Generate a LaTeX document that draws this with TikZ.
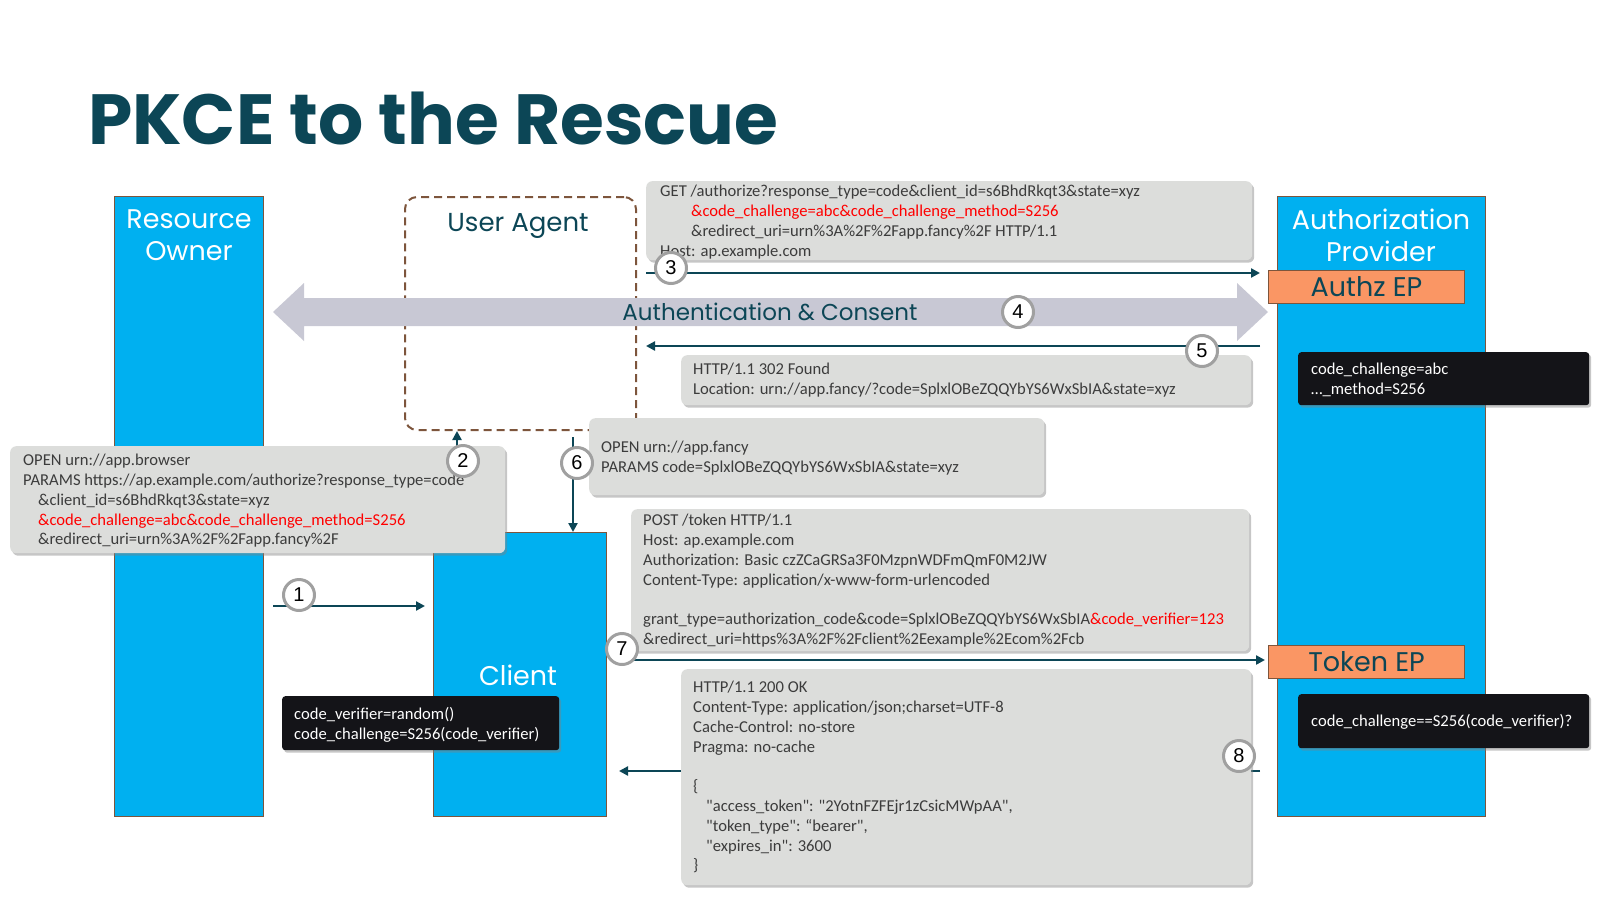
\documentclass[tikz,border=0pt]{standalone}
\usepackage{fontspec}
\setmainfont{Carlito}
\newfontfamily\headfont{Poppins}
\newfontfamily\numfont{Liberation Sans}
\usetikzlibrary{arrows.meta,shadows,positioning}

\definecolor{pkteal}{RGB}{12,70,86}
\definecolor{pkcyan}{RGB}{0,176,240}
\definecolor{pkorange}{RGB}{250,150,100}
\definecolor{pkbrown}{RGB}{125,85,60}
\definecolor{pkgray}{RGB}{220,221,219}
\definecolor{pktext}{RGB}{60,60,60}
\definecolor{pkred}{RGB}{255,0,0}
\definecolor{pkblack}{RGB}{20,20,24}
\definecolor{pkband}{RGB}{200,200,212}
\definecolor{pkring}{RGB}{160,160,160}
\newcommand{\qd}{\textquotedbl}

\begin{document}
\begin{tikzpicture}[x=1pt,y=-1pt,
  actor/.style={draw=pkbrown, line width=1pt, fill=pkcyan, anchor=north west, inner sep=0pt},
  actorlabel/.style={font=\headfont\fontsize{27}{32}\selectfont, text=white, align=center},
  ep/.style={draw=pkbrown, line width=1pt, fill=pkorange, anchor=north west, inner sep=0pt,
    minimum width=196pt, minimum height=33pt, font=\headfont\fontsize{27}{30}\selectfont, text=pkteal},
  msg/.style={fill=pkgray, rounded corners=6pt, anchor=north west, inner sep=0pt,
    drop shadow={shadow xshift=2pt, shadow yshift=-2.5pt, opacity=0.45}},
  note/.style={fill=pkblack, rounded corners=3pt, anchor=north west, inner sep=0pt,
    drop shadow={shadow xshift=2pt, shadow yshift=-2.5pt, opacity=0.45}},
  msgtext/.style={anchor=north west, inner sep=0pt, align=left, text=pktext,
    font=\fontsize{16.6}{19.8}\selectfont},
  notetext/.style={msgtext, text=white},
  flow/.style={draw=pkteal, line width=2.5pt, -{Triangle[length=9pt,width=9pt]}},
  num/.style={circle, draw=pkring, line width=3pt, fill=white, minimum size=31pt,
    inner sep=0pt, font=\numfont\fontsize{20}{20}\selectfont},
]
\useasboundingbox (0,0) rectangle (1600,900);

% title
\node[anchor=base west, inner sep=0pt, text=pkteal,
  font=\headfont\bfseries\fontsize{71}{80}\selectfont] (title) at (88,144) {PKCE to the Rescue};

% actors
\node[actor, minimum width=149pt, minimum height=620pt] (owner) at (114,196) {};
\node[actor, minimum width=173pt, minimum height=284pt] (client) at (433,532) {};
\node[actor, minimum width=208pt, minimum height=620pt] (provider) at (1277,196) {};
\node[actorlabel] (ownerlabel) at (189,235) {Resource\\Owner};
\node[actorlabel] (clientlabel) at (518,675) {Client};
\node[actorlabel] (providerlabel) at (1381,235) {Authorization\\Provider};

\node[draw=pkbrown, line width=2pt, dash pattern=on 8pt off 5pt, rounded corners=12pt,
  anchor=north west, inner sep=0pt, minimum width=231pt, minimum height=233pt] (agent) at (404,196) {};
\node[font=\headfont\fontsize{26}{30}\selectfont, text=pkteal] (agentlabel) at (518,226) {User Agent};

\node[ep] (authz) at (1268,270) {Authz EP};
\node[ep] (token) at (1268,645) {Token EP};

% authentication band
\fill[pkband] (273,312) -- (304,283) -- (304,298) -- (1237,298) -- (1237,283) -- (1268,312)
  -- (1237,341) -- (1237,326) -- (304,326) -- (304,341) -- cycle;
\node[font=\headfont\fontsize{23}{27}\selectfont, text=pkteal] (consent) at (770,312) {Authentication \& Consent};

% flows
\coordinate (f1a) at (273,606);
\coordinate (f1b) at (425,606);
\coordinate (f3a) at (646,273);
\coordinate (f3b) at (1260,273);
\coordinate (f5a) at (1260,346);
\coordinate (f5b) at (646,346);
\coordinate (f6a) at (573,437);
\coordinate (f7a) at (624,660);
\coordinate (f7b) at (1265,660);
\coordinate (f8a) at (1260,771);
\coordinate (f8b) at (619,771);
\draw[flow] (f1a) -- (f1b);
\draw[flow] (457,446) -- (457,0 |- agent.south);
\draw[flow] (f3a) -- (f3b);
\draw[flow] (f5a) -- (f5b);
\draw[flow] (f6a) -- (573,0 |- client.north);
\draw[flow] (f7a) -- (f7b);
\draw[flow] (f8a) -- (f8b);

% messages
\node[msg, minimum width=606pt, minimum height=79pt] (get) at (646,181) {};
\node[msgtext] (gettext) at (660,185) {GET /authorize?response\_type=code\&client\_id=s6BhdRkqt3\&state=xyz\\
  \hspace*{31pt}\textcolor{pkred}{\&code\_challenge=abc\&code\_challenge\_method=S256}\\
  \hspace*{31pt}\&redirect\_uri=urn\%3A\%2F\%2Fapp.fancy\%2F HTTP/1.1\\
  Host: ap.example.com};

\node[msg, minimum width=570pt, minimum height=50pt] (found) at (681,355) {};
\node[msgtext] (foundtext) at (693,363) {HTTP/1.1 302 Found\\
  Location: urn://app.fancy/?code=SplxlOBeZQQYbYS6WxSbIA\&state=xyz};

\node[msg, minimum width=495pt, minimum height=107pt] (browser) at (10,446) {};
\node[msgtext] (browsertext) at (23,454) {OPEN urn://app.browser\\
  PARAMS https://ap.example.com/authorize?response\_type=code\\
  \hspace*{15pt}\&client\_id=s6BhdRkqt3\&state=xyz\\
  \hspace*{15pt}\textcolor{pkred}{\&code\_challenge=abc\&code\_challenge\_method=S256}\\
  \hspace*{15pt}\&redirect\_uri=urn\%3A\%2F\%2Fapp.fancy\%2F};

\node[msg, minimum width=455pt, minimum height=77pt] (fancy) at (589,418) {};
\node[msgtext] (fancytext) at (601,441) {OPEN urn://app.fancy\\
  PARAMS code=SplxlOBeZQQYbYS6WxSbIA\&state=xyz};

\node[msg, minimum width=618pt, minimum height=142pt] (post) at (631,509) {};
\node[msgtext] (posttext) at (643,514) {POST /token HTTP/1.1\\
  Host: ap.example.com\\
  Authorization: Basic czZCaGRSa3F0MzpnWDFmQmF0M2JW\\
  Content-Type: application/x-www-form-urlencoded\\
  \mbox{}\\
  grant\_type=authorization\_code\&code=SplxlOBeZQQYbYS6WxSbIA\textcolor{pkred}{\&code\_verifier=123}\\
  \&redirect\_uri=https\%3A\%2F\%2Fclient\%2Eexample\%2Ecom\%2Fcb};

\node[msg, minimum width=570pt, minimum height=216pt] (ok) at (681,669) {};
\node[msgtext] (oktext) at (693,681) {HTTP/1.1 200 OK\\
  Content-Type: application/json;charset=UTF-8\\
  Cache-Control: no-store\\
  Pragma: no-cache\\
  \mbox{}\\
  \{\\
  \hspace*{13pt}\qd access\_token\qd: \qd 2YotnFZFEjr1zCsicMWpAA\qd,\\
  \hspace*{13pt}\qd token\_type\qd: “bearer\qd,\\
  \hspace*{13pt}\qd expires\_in\qd: 3600\\
  \}};

% notes
\node[note, minimum width=291pt, minimum height=53pt] (challenge) at (1298,352) {};
\node[notetext] (challengetext) at (1311,363) {code\_challenge=abc\\…\_method=S256};
\node[note, minimum width=277pt, minimum height=54pt] (verifier) at (282,696) {};
\node[notetext] (verifiertext) at (294,707) {code\_verifier=random()\\code\_challenge=S256(code\_verifier)};
\node[note, minimum width=291pt, minimum height=54pt] (check) at (1298,694) {};
\node[notetext] (checktext) at (1311,714) {code\_challenge==S256(code\_verifier)?};

% step numbers
\node[num] (n1) at (299,595) {1};
\node[num] (n2) at (463,461) {2};
\node[num] (n3) at (671,268) {3};
\node[num] (n4) at (1018,312) {4};
\node[num] (n5) at (1202,351) {5};
\node[num] (n6) at (577,463) {6};
\node[num] (n7) at (622,649) {7};
\node[num] (n8) at (1239,756) {8};
\end{tikzpicture}
\end{document}
